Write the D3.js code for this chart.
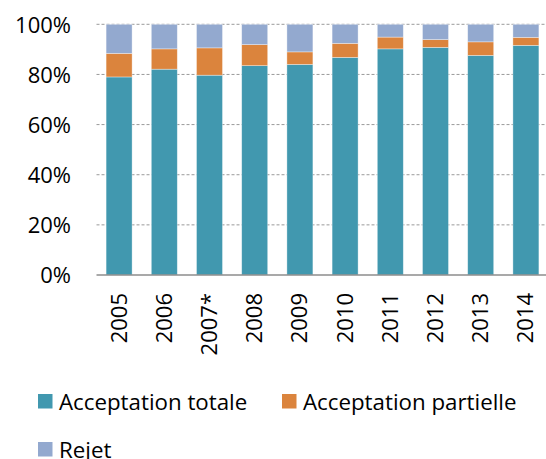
<!DOCTYPE html>
<html><head><meta charset="utf-8">
<script src="https://cdn.jsdelivr.net/npm/d3@7"></script>
<style>
html,body{margin:0;padding:0;background:#fff;}
svg{display:block;font-family:"Open Sans",sans-serif;}
</style></head>
<body>
<svg id="c" width="546" height="459"></svg>
<script>
const years = ["2005","2006","2007*","2008","2009","2010","2011","2012","2013","2014"];
const acceptationTotale = [79.0, 82.1, 79.7, 83.5, 84.0, 86.8, 90.2, 90.8, 87.6, 91.6];
const acceptationPartielle = [9.4, 8.1, 10.9, 8.4, 5.0, 5.6, 4.7, 3.1, 5.4, 3.2];
const rejet = [11.6, 9.8, 9.4, 8.1, 11.0, 7.6, 5.1, 6.1, 7.0, 5.2];
const seriesNames = ["Acceptation totale", "Acceptation partielle", "Rejet"];
const colors = ["#4198AF", "#DB843D", "#93A9CF"];
const yTicks = [0, 20, 40, 60, 80, 100];

const rows = years.map((y, i) => ({year: y, "Acceptation totale": acceptationTotale[i], "Acceptation partielle": acceptationPartielle[i], "Rejet": rejet[i]}));
const stack = d3.stack().keys(seriesNames)(rows);

const svg = d3.select("#c");
const x = d3.scaleBand().domain(years).range([96.5, 548.5]).paddingInner(0.425).paddingOuter(0.2125);
const y = d3.scaleLinear().domain([0, 100]).range([275, 24.3]);

// gridlines
svg.append("g").selectAll("line").data(yTicks.filter(t => t > 0)).join("line")
  .attr("x1", 96.5).attr("x2", 546).attr("y1", d => y(d)).attr("y2", d => y(d))
  .attr("stroke", "#9a9a9a").attr("stroke-width", 1).attr("stroke-dasharray", "3,2");

// bars
svg.append("g").selectAll("g").data(stack).join("g")
  .attr("fill", (d, i) => colors[i])
  .selectAll("rect").data(d => d).join("rect")
  .attr("x", d => x(d.data.year)).attr("width", x.bandwidth())
  .attr("y", d => y(d[1])).attr("height", d => y(d[0]) - y(d[1]))
  .attr("stroke", "#ffffff").attr("stroke-opacity", 0.5).attr("stroke-width", 0.7);

// baseline axis
svg.append("line").attr("x1", 96.5).attr("x2", 546).attr("y1", y(0)).attr("y2", y(0))
  .attr("stroke", "#8c8c8c").attr("stroke-width", 1.5);

// y labels
const yAxis = d3.axisLeft(y).tickValues(yTicks).tickFormat(d => d + "%").tickSize(0).tickPadding(0);
const ya = svg.append("g").attr("transform", "translate(71,0)").call(yAxis);
ya.select(".domain").remove();
ya.selectAll("text").attr("font-family", "Open Sans").attr("font-size", 22).attr("fill", "#000").attr("dy", "0.36em");

// x labels
svg.append("g").selectAll("text").data(years).join("text")
  .attr("transform", d => `translate(${x(d) + x.bandwidth()/2 + 7.5},293) rotate(-90)`)
  .attr("text-anchor", "end").attr("font-size", 22).attr("fill", "#000")
  .text(d => d);

// legend
const legendPos = [[38, 394], [282, 394], [38, 442]];
const lg = svg.append("g").selectAll("g").data(seriesNames).join("g")
  .attr("transform", (d, i) => `translate(${legendPos[i][0]},${legendPos[i][1]})`);
lg.append("rect").attr("width", 14.5).attr("height", 14.5).attr("fill", (d, i) => colors[i]);
lg.append("text").attr("x", 21).attr("y", 15.5).attr("font-size", 22.3).attr("fill", "#000").text(d => d);
</script>
</body></html>
